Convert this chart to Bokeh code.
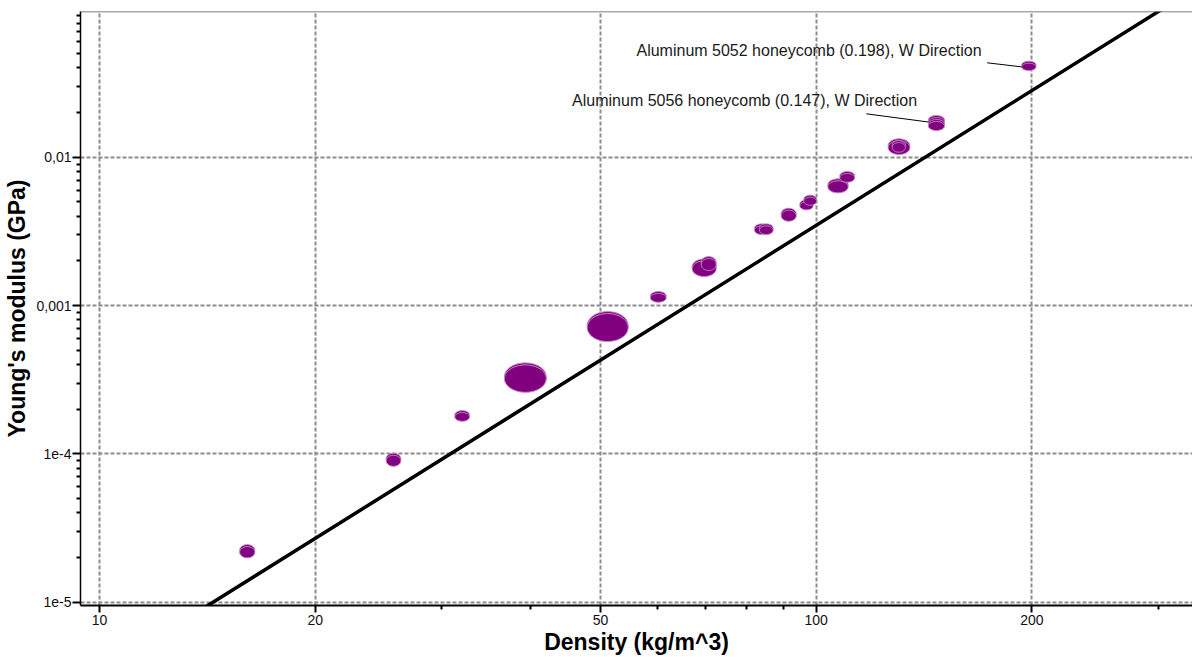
import numpy as np
from bokeh.plotting import figure
from bokeh.models import Range1d, FixedTicker, CustomJSTickFormatter, Span
from bokeh.core.properties import value
from bokeh.embed import file_html
from bokeh.resources import INLINE

# Honeycomb records: density range (kg/m^3) and Young's modulus range (GPa)
density_lo = [15.69, 25.12, 31.32, 36.73, 47.92, 58.71, 67.14, 69.11, 82.03, 83.33,
              89.36, 94.88, 96.11, 103.82, 107.89, 126.03, 127.66, 143.4, 143.4, 193.5]
density_hi = [16.47, 26.33, 32.83, 42.01, 54.66, 61.75, 72.52, 72.52, 85.89, 87.08,
              93.78, 99.02, 100.11, 110.81, 113.12, 135.11, 133.21, 151.0, 151.0, 202.6]
modulus_lo = [1.99e-5, 8.25e-5, 1.659e-4, 2.60e-4, 5.72e-4, 1.053e-3, 1.569e-3, 1.722e-3,
              3.012e-3, 3.012e-3, 3.702e-3, 4.419e-3, 4.746e-3, 5.754e-3, 6.783e-3,
              1.0428e-2, 1.081e-2, 1.611e-2, 1.514e-2, 3.842e-2]
modulus_hi = [2.37e-5, 9.785e-5, 1.899e-4, 3.98e-4, 8.83e-4, 1.205e-3, 2.001e-3, 2.074e-3,
              3.446e-3, 3.446e-3, 4.391e-3, 5.003e-3, 5.374e-3, 6.932e-3, 7.766e-3,
              1.2899e-2, 1.256e-2, 1.853e-2, 1.741e-2, 4.304e-2]

# Labelled records (index into the lists above)
note_names = ["Aluminum 5052 honeycomb", "Aluminum 5056 honeycomb"]
note_suffix = ", W Direction"
note_record = [19, 17]
note_text_density = [170.1, 138.3]
note_text_modulus = [0.05241, 0.02412]
note_lead_density = [173.2, 117.5]
note_lead_modulus = [0.04331, 0.01962]

# Guideline E/rho^3 = const
guide_density = [13.9, 310.0]
guide_modulus = [8.98e-6, 0.1058]

# Axes
x_ticks = [10, 20, 50, 100, 200]
x_tick_labels = ["10", "20", "50", "100", "200"]
x_minor = [30, 40, 60, 70, 80, 90, 300]
y_ticks = [1e-5, 1e-4, 1e-3, 1e-2]
y_tick_labels = ["1e-5", "1e-4", "0,001", "0,01"]
y_minor = [k * 10.0 ** n for n in range(-6, -1) for k in range(2, 10)]

X_START, X_END = 9.408, 335.0
Y_START, Y_END = 9.50e-6, 0.09605
FRAME_H = 594
FONT = "Liberation Sans"
PURPLE = "#800080"
RIM = "#c98ac9"

p = figure(width=1192, height=657, x_axis_type="log", y_axis_type="log",
           x_range=Range1d(X_START, X_END), y_range=Range1d(Y_START, Y_END),
           output_backend="svg", toolbar_location=None,
           min_border_left=80, min_border_right=0, min_border_top=11, min_border_bottom=52)
p.outline_line_color = None
p.background_fill_color = "white"
p.border_fill_color = "white"

def fmt(vals, labels):
    return CustomJSTickFormatter(args=dict(vals=vals, labels=labels), code="""
        let best = 0, d = Infinity;
        for (let i = 0; i < vals.length; i++) {
            const e = Math.abs(Math.log10(tick) - Math.log10(vals[i]));
            if (e < d) { d = e; best = i; }
        }
        return labels[best];
    """)

xt = FixedTicker(ticks=x_ticks, minor_ticks=x_minor)
yt = FixedTicker(ticks=y_ticks, minor_ticks=y_minor)
p.xaxis.ticker = xt
p.yaxis.ticker = yt
p.xgrid.ticker = xt
p.ygrid.ticker = yt
p.xaxis.formatter = fmt(x_ticks, x_tick_labels)
p.yaxis.formatter = fmt(y_ticks, y_tick_labels)

for ax in (p.xaxis, p.yaxis):
    ax.axis_line_color = "black"
    ax.major_tick_line_color = "black"
    ax.minor_tick_line_color = "black"
    ax.major_tick_line_width = 2
    ax.minor_tick_line_width = 2
    ax.major_tick_in = 0
    ax.minor_tick_in = 0
    ax.minor_tick_out = 4
    ax.major_label_text_font = FONT
    ax.major_label_text_font_size = "14px"
    ax.major_label_text_color = "#111111"
    ax.axis_label_text_font = FONT
    ax.axis_label_text_font_style = "bold"
    ax.axis_label_text_font_size = "23px"
    ax.axis_label_text_color = "black"

p.xaxis.axis_line_width = 2
p.yaxis.axis_line_width = 1.5
p.xaxis.major_tick_out = 7
p.yaxis.major_tick_out = 8
p.xaxis.major_label_standoff = 2
p.yaxis.major_label_standoff = 1
p.xaxis.axis_label = "Density (kg/m^3)"
p.yaxis.axis_label = "Young's modulus (GPa)"
p.xaxis.axis_label_standoff = 1
p.yaxis.axis_label_standoff = 3

for g in (p.xgrid, p.ygrid):
    g.grid_line_color = "#8c8c8c"
    g.grid_line_width = 2
    g.grid_line_dash = "4 2"

p.add_layout(Span(location=Y_END, dimension="width", line_color="#555555", line_width=1.5))

# Guideline
p.line(guide_density, guide_modulus, line_color="black", line_width=3.5)

# Bubbles: ellipses in log space spanning each record's ranges, with a raised rim
dec_per_px = (np.log10(Y_END) - np.log10(Y_START)) / FRAME_H
rim_factor = 10 ** (2 * dec_per_px)
t = np.linspace(0, 2 * np.pi, 72)
xs, ys = [], []
for a, b, c, d in zip(density_lo, density_hi, modulus_lo, modulus_hi):
    lx, rx = (np.log10(a) + np.log10(b)) / 2, (np.log10(b) - np.log10(a)) / 2
    ly, ry = (np.log10(c) + np.log10(d)) / 2, (np.log10(d) - np.log10(c)) / 2
    ex = 10 ** (lx + rx * np.cos(t))
    ey = 10 ** (ly + ry * np.sin(t))
    xs += [ex.tolist(), ex.tolist()]
    ys += [(ey * rim_factor).tolist(), ey.tolist()]
p.patches(xs, ys, fill_color=PURPLE, line_color=RIM, line_width=1)

# Annotations
texts, lx1, ly1 = [], [], []
for name, idx in zip(note_names, note_record):
    rho = np.sqrt(density_lo[idx] * density_hi[idx])
    texts.append(f"{name} ({rho / 1000:.3f}){note_suffix}")
    lx1.append(density_lo[idx])
    ly1.append(float(np.sqrt(modulus_lo[idx] * modulus_hi[idx])))
p.segment(x0=note_lead_density, y0=note_lead_modulus, x1=lx1, y1=ly1,
          line_color="black", line_width=1)
p.text(x=note_text_density, y=note_text_modulus, text=texts,
       text_align="right", text_baseline="alphabetic",
       text_font=value(FONT), text_font_size="16px", text_color="#1a1a1a")

open("out.html", "w").write(file_html(p, INLINE))
